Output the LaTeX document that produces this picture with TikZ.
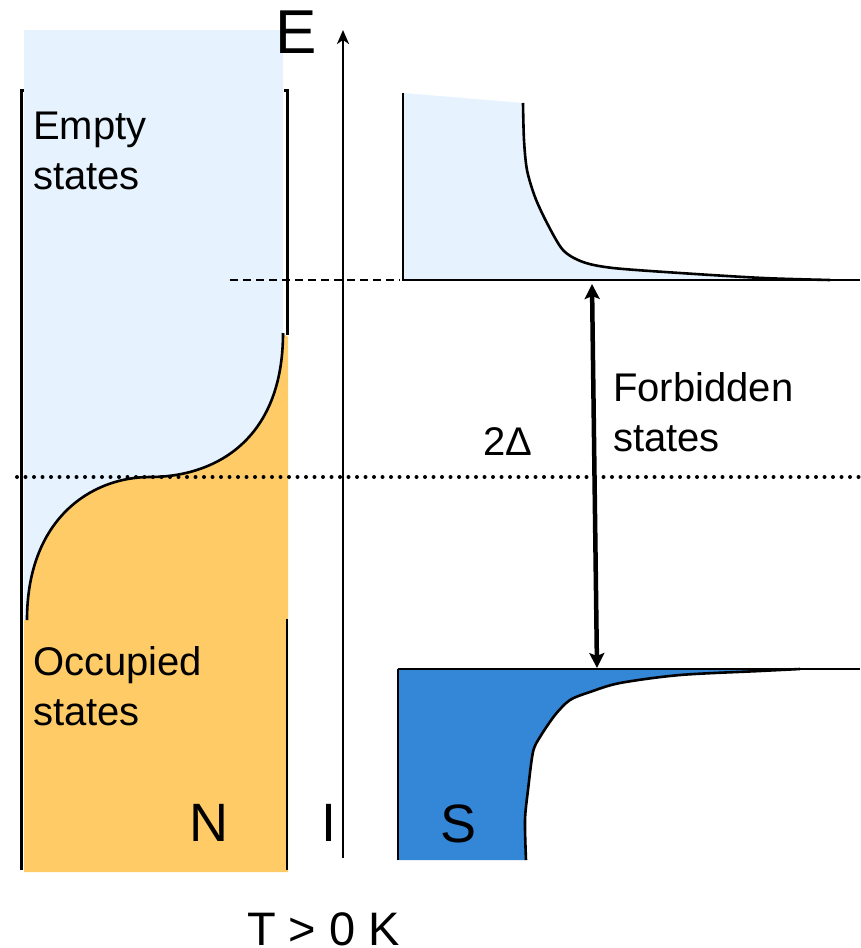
\documentclass[tikz,border=0pt]{standalone}
\usepackage{fontspec}
\setmainfont{Liberation Sans}
\usetikzlibrary{arrows.meta}
\definecolor{lb}{RGB}{230,242,253}
\definecolor{og}{RGB}{254,203,102}
\definecolor{sb}{RGB}{52,134,214}
\begin{document}
\begin{tikzpicture}[x=1pt,y=-1pt,
  lbl/.style={inner sep=0pt, font=\fontsize{40}{50}\selectfont, align=left},
  big/.style={inner sep=0pt, font=\fontsize{54}{60}\selectfont, anchor=base west},
  curve/.style={line width=2.6pt, line join=round},
  edge/.style={line width=3pt}]
\useasboundingbox (0,0) rectangle (860,948);
% ---- N side fills
\fill[lb] (24,30) rectangle (283,620);
\fill[og] (24,872) -- (24,620) -- (27,620) .. controls (27,520) and (90,477) .. (150,477)
  .. controls (215,477) and (283,440) .. (283,333) -- (288,337) -- (288,872) -- cycle;
\draw[curve] (27,620) .. controls (27,520) and (90,477) .. (150,477)
  .. controls (215,477) and (283,440) .. (283,333);
\draw[edge] (24,90) -- (21,90) -- (21,870);
\draw[edge] (284,90) -- (287,90) -- (287,335);
\draw[line width=1.4pt] (287,619) -- (287,870);
% ---- S side upper (empty)
\fill[lb] (403,93) -- (523,103) -- plot[smooth] coordinates {(523,103) (524,140) (527,170) (535,197) (547,223) (563,250) (583,262) (613,268) (680,273) (763,278) (830,280)} -- (403,280) -- cycle;
\draw[curve] plot[smooth] coordinates {(523,103) (524,140) (527,170) (535,197) (547,223) (563,250) (583,262) (613,268) (680,273) (763,278) (830,280)};
\draw[line width=2.6pt] (403,93) -- (403,280) -- (860,280);
% ---- S side lower (occupied)
\fill[sb] (398,860) -- (398,669) -- (800,669) -- plot[smooth] coordinates {(800,669) (760,671) (680,675) (620,683) (590,692) (570,700) (555,715) (540,737) (533,752) (528,790) (525,820) (526,860)} -- cycle;
\draw[curve] plot[smooth] coordinates {(800,669) (760,671) (680,675) (620,683) (590,692) (570,700) (555,715) (540,737) (533,752) (528,790) (525,820) (526,860)};
\draw[line width=1.5pt] (398,860) -- (398,669);
\draw[line width=2.6pt] (398,669) -- (860,669);
% ---- reference lines
\draw[line width=4pt, dash pattern=on 0pt off 8.5pt, line cap=round] (17,477) -- (860,477);
\draw[line width=2pt, dash pattern=on 8pt off 5pt] (230,280) -- (400,280);
% ---- energy axis
\coordinate (axb) at (343,858);
\coordinate (axt) at (343,30);
\draw[line width=2.4pt, -{Stealth[length=14pt,width=12pt,inset=4pt]}] (axb) -- (axt);
% ---- gap arrow
\coordinate (gt) at (592,284);
\coordinate (gb) at (597,668);
\draw[line width=4.5pt, {Stealth[length=15pt,width=15pt,inset=3pt]}-{Stealth[length=15pt,width=15pt,inset=3pt]}] (gt) -- (gb);
% ---- labels
\node[inner sep=0pt, font=\fontsize{62}{70}\selectfont, anchor=base west] (E) at (275,53) {E};
\node[lbl, anchor=north west] (empty) at (33,112) {Empty\\states};
\node[lbl, anchor=north west] (occ) at (33,646) {Occupied\\states};
\node[lbl, anchor=north west] (forb) at (613,372) {Forbidden\\states};
\node[lbl, anchor=base west] (gap) at (483,455) {2Δ};
\node[big] (N) at (189,841) {N};
\node[big] (I) at (321,841) {I};
\node[big] (S) at (440,842) {S};
\node[inner sep=0pt, font=\fontsize{47}{50}\selectfont, anchor=base west] (T) at (247,945) {T > 0 K};
\end{tikzpicture}
\end{document}
